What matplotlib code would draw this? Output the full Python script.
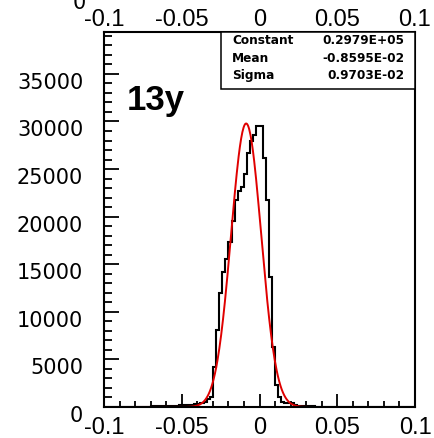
import numpy as np
import matplotlib.pyplot as plt
from matplotlib.patches import Rectangle
from matplotlib.ticker import MultipleLocator
from matplotlib.transforms import ScaledTranslation

plt.rcParams['font.family'] = 'Liberation Sans'

# Histogram: 100 bins between -0.1 and 0.1
x_lo = -0.1
x_hi = 0.1
n_bins = 100
counts = [0, 0, 10, 10, 10, 20, 20, 20, 30, 30,
          30, 40, 40, 50, 50, 60, 70, 80, 90, 100,
          110, 120, 130, 150, 160, 180, 200, 220, 250, 280,
          330, 450, 550, 800, 1000, 4190, 8070, 12000, 14150, 15500,
          17300, 19500, 21700, 22740, 23160, 24520, 26720, 27980, 28600, 29550,
          29500, 26200, 21700, 13620, 6290, 2300, 1050, 520, 430, 420,
          380, 250, 150, 100, 80, 70, 60, 60, 50, 50,
          40, 40, 40, 30, 30, 30, 30, 30, 20, 20,
          20, 20, 20, 20, 20, 10, 10, 10, 10, 10,
          10, 10, 10, 0, 0, 0, 0, 0, 0, 0]

# Gaussian fit parameters (stats box)
fit_const = 0.2979e5
fit_mean = -0.8595e-2
fit_sigma = 0.9703e-2
stat_names = ['Constant', 'Mean', 'Sigma']
stat_values = ['0.2979E+05', '-0.8595E-02', '0.9703E-02']

x_ticks = [-0.1, -0.05, 0, 0.05, 0.1]
x_labels = ['-0.1', '-0.05', '0', '0.05', '0.1']
y_ticks = [0, 5000, 10000, 15000, 20000, 25000, 30000, 35000]
y_labels = ['0', '5000', '10000', '15000', '20000', '25000', '30000', '35000']
title = '13y'

fig = plt.figure(figsize=(4.34, 4.38), dpi=100)
ax = fig.add_axes([104 / 434, 1 - 407 / 438, 311 / 434, 375 / 438])

# histogram and fit
edges = np.linspace(x_lo, x_hi, n_bins + 1)
ax.stairs(counts, edges, color='black', lw=1.5)
xf = np.linspace(x_lo, x_hi, 500)
ax.plot(xf, fit_const * np.exp(-0.5 * ((xf - fit_mean) / fit_sigma) ** 2),
        color='#e00000', lw=1.4)

ax.set_xlim(x_lo, x_hi)
ax.set_ylim(0, 39400)

ax.set_xticks(x_ticks, x_labels)
ax.xaxis.set_minor_locator(MultipleLocator(0.01))
ax.set_yticks(y_ticks, y_labels)
ax.yaxis.set_minor_locator(MultipleLocator(1000))
ax.tick_params(axis='x', which='major', direction='in', length=9.5, width=1.3,
               labelsize=17, pad=7, top=False)
ax.tick_params(axis='x', which='minor', direction='in', length=4, width=1.3, top=False)
ax.tick_params(axis='y', which='major', direction='in', length=11, width=1.3,
               labelsize=15, pad=15, right=False, labelfontfamily='DejaVu Sans')
ax.tick_params(axis='y', which='minor', direction='in', length=5.5, width=1.3, right=False)
for lbl in ax.get_yticklabels():
    lbl.set_transform(lbl.get_transform() + ScaledTranslation(0, -5 / 72, fig.dpi_scale_trans))
for s in ax.spines.values():
    s.set_linewidth(1.5)

# labels repeated on top
ax2 = ax.twiny()
ax2.set_xlim(x_lo, x_hi)
ax2.set_xticks(x_ticks, x_labels)
ax2.tick_params(axis='x', length=0, labelsize=17, pad=1)
for s in ax2.spines.values():
    s.set_visible(False)

# stats box
bx0 = (221 - 104) / 311
by0 = (407 - 89) / 375
ax.add_patch(Rectangle((bx0, by0), 1 - bx0, 1 - by0, transform=ax.transAxes,
                       facecolor='white', edgecolor='black', lw=1.1, zorder=5))
rows_y = [0.976, 0.929, 0.883]
for name, val, yy in zip(stat_names, stat_values, rows_y):
    ax.text(0.4116, yy, name, transform=ax.transAxes, ha='left', va='center',
            fontsize=8.7, fontweight='bold', family='DejaVu Sans', zorder=6)
    ax.text(0.9646, yy, val, transform=ax.transAxes, ha='right', va='center',
            fontsize=8.7, fontweight='bold', family='DejaVu Sans', zorder=6)

ax.text((127 - 104) / 311, (407 - 110) / 375, title, transform=ax.transAxes,
        ha='left', va='baseline', fontsize=25, fontweight='bold')

# cut-off label from the panel above
fig.text(79 / 434, 1 - 9 / 438, '0', ha='center', va='baseline', fontsize=15,
         family='DejaVu Sans')

fig.savefig('out.png', dpi=100)
